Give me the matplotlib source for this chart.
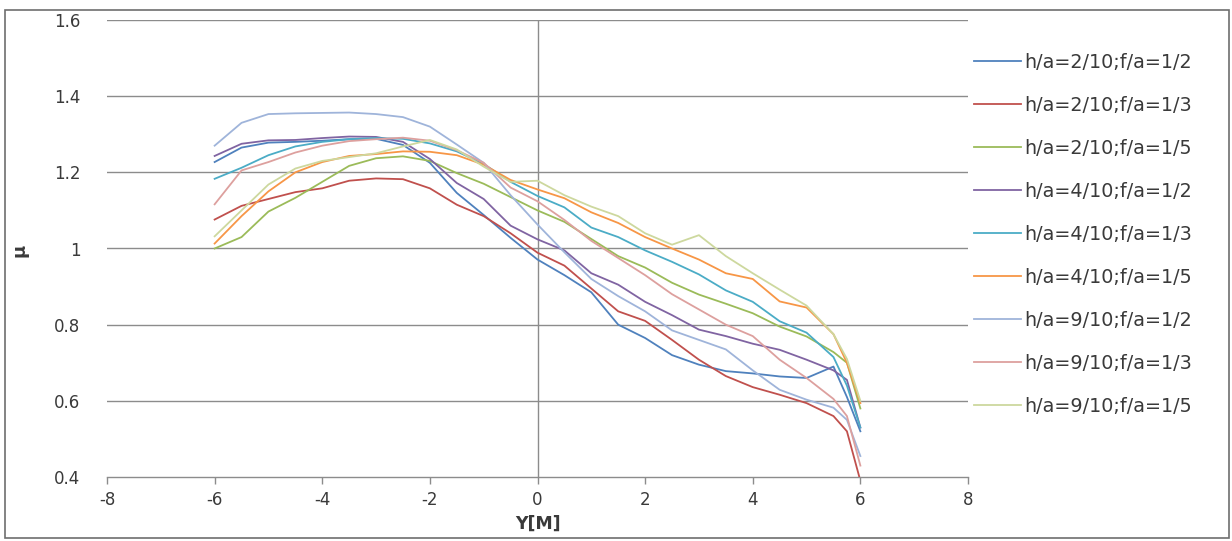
import matplotlib
matplotlib.use("Agg")
import matplotlib.pyplot as plt
from matplotlib.patches import Rectangle

plt.rcParams['font.family'] = ['DejaVu Sans']

# Transverse position Y [m]
y_pos = [-6, -5.5, -5, -4.5, -4, -3.5, -3, -2.5, -2, -1.5, -1, -0.5, 0,
         0.5, 1, 1.5, 2, 2.5, 3, 3.5, 4, 4.5, 5, 5.5, 5.75, 6]

labels = ["h/a=2/10;f/a=1/2", "h/a=2/10;f/a=1/3", "h/a=2/10;f/a=1/5",
          "h/a=4/10;f/a=1/2", "h/a=4/10;f/a=1/3", "h/a=4/10;f/a=1/5",
          "h/a=9/10;f/a=1/2", "h/a=9/10;f/a=1/3", "h/a=9/10;f/a=1/5"]

mu_h2_f2 = [1.227, 1.265, 1.278, 1.280, 1.283, 1.287, 1.288, 1.272, 1.225, 1.146, 1.088, 1.028, 0.971,
            0.930, 0.885, 0.800, 0.765, 0.720, 0.695, 0.678, 0.672, 0.664, 0.660, 0.690, 0.610, 0.520]
mu_h2_f3 = [1.076, 1.112, 1.130, 1.148, 1.158, 1.178, 1.184, 1.182, 1.158, 1.115, 1.085, 1.040, 0.989,
            0.955, 0.895, 0.835, 0.810, 0.760, 0.708, 0.665, 0.636, 0.616, 0.594, 0.560, 0.520, 0.390]
mu_h2_f5 = [1.000, 1.030, 1.097, 1.133, 1.175, 1.217, 1.237, 1.242, 1.230, 1.198, 1.170, 1.135, 1.100,
            1.070, 1.025, 0.980, 0.950, 0.910, 0.879, 0.855, 0.830, 0.795, 0.769, 0.728, 0.700, 0.580]
mu_h4_f2 = [1.243, 1.275, 1.284, 1.285, 1.290, 1.294, 1.293, 1.280, 1.235, 1.172, 1.130, 1.060, 1.024,
            0.995, 0.935, 0.905, 0.860, 0.825, 0.787, 0.770, 0.750, 0.734, 0.708, 0.680, 0.655, 0.530]
mu_h4_f3 = [1.183, 1.212, 1.245, 1.268, 1.280, 1.287, 1.290, 1.288, 1.276, 1.255, 1.222, 1.175, 1.138,
            1.108, 1.055, 1.030, 0.995, 0.965, 0.932, 0.890, 0.860, 0.809, 0.779, 0.715, 0.640, 0.530]
mu_h4_f5 = [1.013, 1.085, 1.150, 1.200, 1.227, 1.243, 1.248, 1.255, 1.254, 1.245, 1.220, 1.180, 1.155,
            1.132, 1.095, 1.067, 1.030, 1.000, 0.971, 0.935, 0.920, 0.861, 0.845, 0.775, 0.700, 0.594]
mu_h9_f2 = [1.270, 1.330, 1.353, 1.355, 1.356, 1.357, 1.353, 1.345, 1.320, 1.273, 1.225, 1.140, 1.063,
            0.990, 0.920, 0.875, 0.835, 0.785, 0.760, 0.735, 0.680, 0.629, 0.603, 0.582, 0.550, 0.455]
mu_h9_f3 = [1.116, 1.205, 1.227, 1.252, 1.270, 1.282, 1.287, 1.291, 1.283, 1.258, 1.225, 1.160, 1.124,
            1.075, 1.020, 0.975, 0.930, 0.880, 0.840, 0.800, 0.770, 0.708, 0.660, 0.605, 0.560, 0.430]
mu_h9_f5 = [1.032, 1.100, 1.168, 1.210, 1.230, 1.240, 1.250, 1.268, 1.285, 1.260, 1.215, 1.175, 1.178,
            1.140, 1.110, 1.085, 1.040, 1.010, 1.035, 0.980, 0.935, 0.892, 0.850, 0.775, 0.710, 0.600]

series = [mu_h2_f2, mu_h2_f3, mu_h2_f5, mu_h4_f2, mu_h4_f3, mu_h4_f5,
          mu_h9_f2, mu_h9_f3, mu_h9_f5]
colors = ['#4F81BD', '#C0504D', '#9BBB59', '#8064A2', '#4BACC6', '#F79646',
          '#9FB4DA', '#DDA09E', '#CDD89E']

x_ticks = [-8, -6, -4, -2, 0, 2, 4, 6, 8]
y_ticks = [0.4, 0.6, 0.8, 1.0, 1.2, 1.4, 1.6]
y_ticklabels = ['0.4', '0.6', '0.8', '1', '1.2', '1.4', '1.6']

W, H = 1232, 541
fig = plt.figure(figsize=(W / 100, H / 100), dpi=100)
fig.patch.set_facecolor('white')

ax = fig.add_axes([107 / W, 1 - 477 / H, (968 - 107) / W, (477 - 20) / H])

grid_c = '#8C8C8C'
text_c = '#3A3A3A'
for yv in y_ticks[1:]:
    ax.axhline(yv, color=grid_c, lw=1.0, zorder=1)
ax.axvline(0, color=grid_c, lw=1.0, zorder=1)

for vals, lab, c in zip(series, labels, colors):
    ax.plot(y_pos, vals, color=c, lw=1.3, label=lab, zorder=3)

ax.set_xlim(-8, 8)
ax.set_ylim(0.4, 1.6)
ax.set_xticks(x_ticks)
ax.set_xticklabels([str(v) for v in x_ticks])
ax.set_yticks(y_ticks)
ax.set_yticklabels(y_ticklabels)

for s in ['top', 'right', 'left']:
    ax.spines[s].set_visible(False)
ax.spines['bottom'].set_color(grid_c)
ax.spines['bottom'].set_linewidth(1.0)

ax.tick_params(axis='x', direction='out', length=5, width=1, color=grid_c,
               labelsize=12, labelcolor=text_c, pad=5)
ax.tick_params(axis='y', length=0, labelsize=12, labelcolor=text_c, pad=19)

fig.text(538 / W, 1 - 524 / H, 'Y[M]', ha='center', va='center',
         fontsize=12.5, fontweight='bold', color=text_c)
fig.text(20 / W, 1 - 250 / H, 'μ', ha='center', va='center', rotation=90,
         fontsize=13, fontweight='bold', color=text_c)

leg = ax.legend(loc='upper left', bbox_to_anchor=(974 / W, 1 - 53 / H),
                bbox_transform=fig.transFigure, frameon=False,
                fontsize=13.8, handlelength=2.45, handletextpad=0.16,
                labelspacing=1.25, borderpad=0, borderaxespad=0)
for t in leg.get_texts():
    t.set_color(text_c)

fig.patches.append(Rectangle((5 / W, 3 / H), (1229 - 5) / W, (531 - 3) / H,
                             transform=fig.transFigure, fill=False,
                             edgecolor='#6E6E6E', lw=1.2))

fig.savefig('out.png', dpi=100, facecolor='white')
